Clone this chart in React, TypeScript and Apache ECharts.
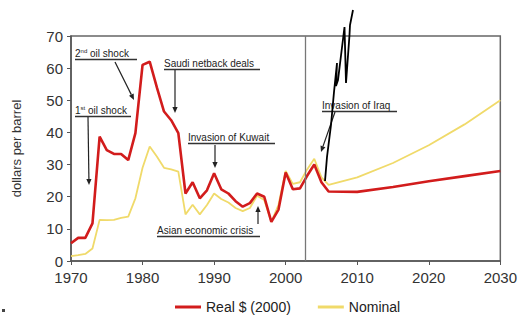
import React, { useEffect, useRef } from "react";
import * as echarts from "echarts";

const realYears = [1970, 1971, 1972, 1973, 1974, 1975, 1976, 1977, 1978, 1979, 1980, 1981, 1982, 1983, 1984, 1985, 1986, 1987, 1988, 1989, 1990, 1991, 1992, 1993, 1994, 1995, 1996, 1997, 1998, 1999, 2000, 2001, 2002, 2003, 2004, 2005, 2006, 2010, 2015, 2020, 2025, 2030];
const realValues = [5.5, 7.2, 7.2, 11.7, 38.7, 34.5, 33.3, 33.3, 31.4, 39.8, 61, 62, 54, 46.5, 43.8, 39.8, 21, 24.5, 19.5, 22, 27.3, 22.3, 21, 18.6, 16.9, 18, 21, 20, 12.2, 16, 27.5, 22.3, 22.6, 26.5, 30, 24.5, 21.6, 21.5, 23, 24.8, 26.4, 28];
const nominalValues = [1.5, 1.8, 2.2, 3.9, 12.8, 12.7, 12.8, 13.4, 13.8, 19.5, 29, 35.6, 32.5, 29, 28.5, 27.8, 14.5, 17.5, 14.5, 17.4, 21, 19.3, 18.2, 16.5, 15.5, 16.5, 20.3, 19, 12.2, 17.5, 28, 24, 24.5, 28.5, 31.8, 26, 23.7, 26, 30.5, 36, 42.5, 50];
const xTicks = { min: 1970, max: 2030, interval: 10 };
const yTicks = { min: 0, max: 70, interval: 10 };
const dividerYear = 2002.8;
const seriesNames = ["Real $ (2000)", "Nominal"];

const TXT = "#222";
const FONT = "Liberation Sans, Arial, sans-serif";

function arrow(x1: number, y1: number, x2: number, y2: number) {
  const dx = x2 - x1, dy = y2 - y1;
  const len = Math.sqrt(dx * dx + dy * dy);
  const ux = dx / len, uy = dy / len;
  const h = 6, w = 2.6;
  const bx = x2 - ux * h, by = y2 - uy * h;
  return [
    { type: "line", shape: { x1, y1, x2: bx, y2: by }, style: { stroke: "#222", lineWidth: 1.2 } },
    {
      type: "polygon",
      shape: { points: [[x2, y2], [bx - uy * w, by + ux * w], [bx + uy * w, by - ux * w]] },
      style: { fill: "#222" },
    },
  ];
}

const rich = {
  a: { fontSize: 10, fontFamily: FONT, fill: TXT, color: TXT },
  s: { fontSize: 6, fontFamily: FONT, fill: TXT, color: TXT, verticalAlign: "top", padding: [0, 0, 4, 0] },
};

function label(text: string, x: number, y: number, w: number) {
  return [
    {
      type: "text",
      x,
      y,
      style: { text, fill: TXT, font: `10px ${FONT}`, verticalAlign: "middle", rich },
    },
    { type: "line", shape: { x1: x, y1: y + 6.5, x2: x + w, y2: y + 6.5 }, style: { stroke: "#333", lineWidth: 1.4 } },
  ];
}

export default function App() {
  const ref = useRef<HTMLDivElement>(null);
  useEffect(() => {
    document.body.style.margin = "0";
    if (!ref.current) return;
    const chart = echarts.init(ref.current, null, { renderer: "svg" });
    const realData = realYears.map((y, i) => [y, realValues[i]]);
    const nomData = realYears.map((y, i) => [y, nominalValues[i]]);
    const squiggle = [[325, 181], [327, 157], [331, 125], [334, 92], [337, 63], [336, 86], [338, 80], [344.5, 27], [346, 83], [349.5, 35], [350, 25], [353, 10]];
    chart.setOption({
      animation: false,
      textStyle: { fontFamily: FONT },
      grid: { left: 71, right: 17, top: 36, bottom: 54, show: true, borderColor: "#666", borderWidth: 1.5 },
      xAxis: {
        type: "value",
        min: xTicks.min,
        max: xTicks.max,
        interval: xTicks.interval,
        axisLine: { show: true, lineStyle: { color: "#555", width: 1.5 } },
        axisTick: { show: true, length: 4, lineStyle: { color: "#555" } },
        axisLabel: { color: "#333", fontSize: 15, margin: 9, fontFamily: FONT, formatter: (v: number) => String(v) },
        splitLine: { show: false },
      },
      yAxis: {
        type: "value",
        min: yTicks.min,
        max: yTicks.max,
        interval: yTicks.interval,
        name: "dollars per barrel",
        nameLocation: "middle",
        nameGap: 48,
        nameTextStyle: { color: "#333", fontSize: 13, fontFamily: FONT },
        axisLine: { show: true, lineStyle: { color: "#555", width: 1.5 } },
        axisTick: { show: true, length: 4, lineStyle: { color: "#555" } },
        axisLabel: { color: "#333", fontSize: 15, margin: 8, fontFamily: FONT },
        splitLine: { show: false },
      },
      legend: {
        data: seriesNames.map((n) => ({ name: n, icon: "rect" })),
        left: 175,
        top: 300,
        padding: 0,
        itemWidth: 26,
        itemHeight: 3,
        itemGap: 27,
        textStyle: { color: TXT, fontSize: 14, fontFamily: FONT },
      },
      series: [
        {
          name: seriesNames[1],
          type: "line",
          data: nomData,
          showSymbol: false,
          lineStyle: { color: "#f0da6a", width: 1.8 },
          itemStyle: { color: "#f0da6a" },
          z: 2,
        },
        {
          name: seriesNames[0],
          type: "line",
          data: realData,
          showSymbol: false,
          lineStyle: { color: "#d21c1c", width: 2.6 },
          itemStyle: { color: "#d21c1c" },
          z: 3,
          markLine: {
            silent: true,
            symbol: "none",
            label: { show: false },
            lineStyle: { color: "#777", width: 1.3, type: "solid" },
            data: [{ xAxis: dividerYear }],
          },
        },
      ],
      graphic: [
        ...label("{a|2}{s|nd}{a| oil shock}", 75, 53, 62),
        ...arrow(115, 62, 134, 100),
        ...label("{a|1}{s|st}{a| oil shock}", 75, 110, 56),
        ...arrow(88, 117, 89, 185),
        ...label("Saudi netback deals", 164, 63, 96),
        ...arrow(175, 70, 175, 113),
        ...label("Invasion of Kuwait", 188, 137, 87),
        ...arrow(215, 145, 215, 168),
        ...label("Asian economic crisis", 157, 230, 103),
        ...arrow(258, 224, 258, 206),
        ...label("Invasion of Iraq", 322, 105, 75),
        ...arrow(335, 112, 321, 152),
        { type: "polyline", shape: { points: squiggle }, style: { stroke: "#000", lineWidth: 1.8, fill: null }, z: 100 },
        { type: "rect", shape: { x: 2, y: 309, width: 3, height: 3 }, style: { fill: "#444" } },
      ],
    });
    return () => chart.dispose();
  }, []);
  return <div ref={ref} style={{ width: 520, height: 315 }} />;
}
